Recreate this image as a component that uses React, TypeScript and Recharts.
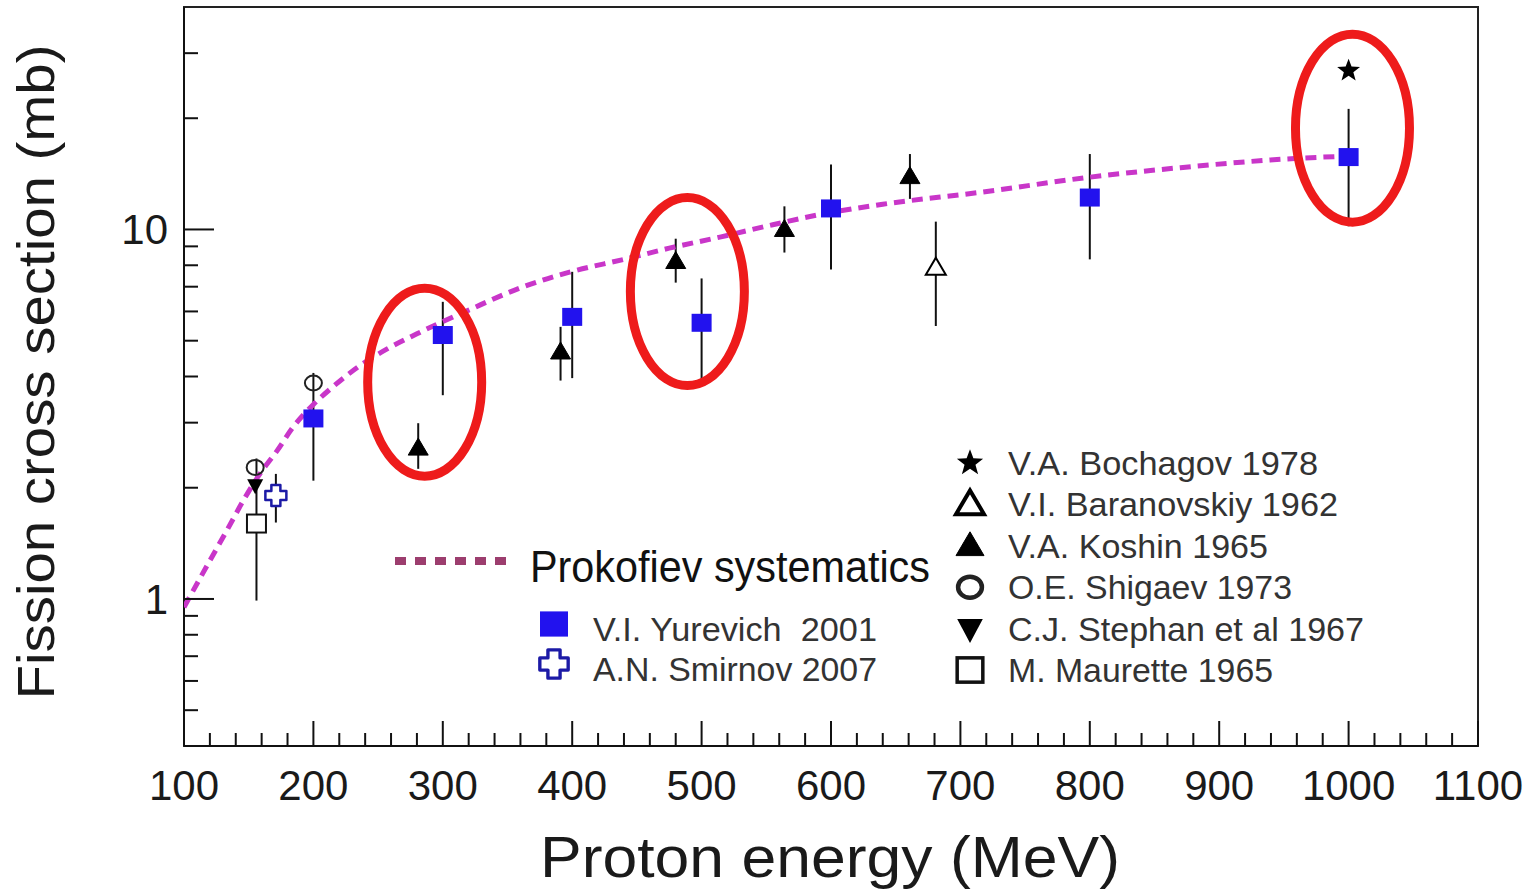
import React from "react";
import { ScatterChart, Scatter, XAxis, YAxis, ErrorBar, ReferenceArea } from "recharts";

const FONT = "'Liberation Sans', Arial, Helvetica, sans-serif";
const BLUE = "#2212ee";
const CURVE = "#c936c9";

// Prokofiev systematics
const curveEnergy = [100, 120, 133, 146, 159, 172, 184, 200, 215, 236, 257, 280, 320, 360, 400, 440, 475, 515, 555, 590, 640, 715, 800, 870, 950, 1000];
const curveSigma = [0.95, 1.27, 1.53, 1.85, 2.19, 2.52, 2.91, 3.36, 3.75, 4.28, 4.75, 5.22, 6.05, 6.95, 7.7, 8.3, 8.9, 9.55, 10.3, 10.95, 11.7, 12.6, 13.85, 14.7, 15.5, 15.8];

// V.I. Yurevich 2001
const yurEnergy = [200, 300, 400, 500, 600, 800, 1000];
const yurSigma = [3.08, 5.18, 5.8, 5.59, 11.4, 12.2, 15.7];
const yurLo = [2.09, 3.56, 3.96, 3.91, 7.79, 8.3, 10.2];
const yurHi = [4.09, 6.37, 7.68, 7.37, 15.0, 16.0, 21.2];

// V.A. Koshin 1965
const koshEnergy = [281, 391, 480, 564, 661];
const koshSigma = [2.56, 4.66, 8.19, 10.0, 13.9];
const koshLo = [2.25, 3.9, 7.18, 8.66, 12.1];
const koshHi = [2.99, 5.45, 9.44, 11.55, 16.0];

// V.I. Baranovskiy 1962
const baraEnergy = [681];
const baraSigma = [7.88];
const baraLo = [5.48];
const baraHi = [10.5];

// V.A. Bochagov 1978
const bochEnergy = [1000];
const bochSigma = [26.9];

// O.E. Shigaev 1973
const shigEnergy = [155, 200];
const shigSigma = [2.27, 3.84];

// C.J. Stephan et al 1967
const stepEnergy = [155];
const stepSigma = [2.03];

// M. Maurette 1965
const maurEnergy = [156];
const maurSigma = [1.6];
const maurLo = [0.99];
const maurHi = [2.4];

// A.N. Smirnov 2007
const smirEnergy = [171];
const smirSigma = [1.905];
const smirLo = [1.61];
const smirHi = [2.18];

// highlighted groups (red rings)
const ringEnergy = [286, 489, 1003];
const ringSigma = [3.86, 6.79, 18.8];

const xMajor = [100, 200, 300, 400, 500, 600, 700, 800, 900, 1000, 1100];
const yMajor = [1, 10];
const yMinor = [0.5, 0.6, 0.7, 0.8, 0.9, 2, 3, 4, 5, 6, 7, 8, 9, 20, 30];

const xTicks: number[] = [];
xMajor.forEach((m, i) => {
  xTicks.push(m);
  if (i < xMajor.length - 1) for (let k = 1; k < 5; k++) xTicks.push(m + k * 20);
});
const yTicks = [...yMinor, ...yMajor].sort((a, b) => a - b);

const rows = (xs: number[], ys: number[], lo?: number[], hi?: number[]) =>
  xs.map((x, i) => ({
    x,
    y: ys[i],
    err: lo && hi ? [ys[i] - lo[i], hi[i] - ys[i]] : [0, 0],
  }));

const curveData = rows(curveEnergy, curveSigma);
const yurData = rows(yurEnergy, yurSigma, yurLo, yurHi);
const koshData = rows(koshEnergy, koshSigma, koshLo, koshHi);
const baraData = rows(baraEnergy, baraSigma, baraLo, baraHi);
const bochData = rows(bochEnergy, bochSigma);
const shigData = rows(shigEnergy, shigSigma);
const stepData = rows(stepEnergy, stepSigma);
const maurData = rows(maurEnergy, maurSigma, maurLo, maurHi);
const smirData = rows(smirEnergy, smirSigma, smirLo, smirHi);
const ringData = rows(ringEnergy, ringSigma);

// ---- marker shapes ----
function starPoints(cx: number, cy: number, R: number, r: number) {
  const pts: string[] = [];
  for (let i = 0; i < 10; i++) {
    const a = -Math.PI / 2 + (i * Math.PI) / 5;
    const rad = i % 2 === 0 ? R : r;
    pts.push(`${cx + rad * Math.cos(a)},${cy + rad * Math.sin(a)}`);
  }
  return pts.join(" ");
}

function plusPoints(cx: number, cy: number, a: number, L: number) {
  const p = [
    [-a, -L], [a, -L], [a, -a], [L, -a], [L, a], [a, a],
    [a, L], [-a, L], [-a, a], [-L, a], [-L, -a], [-a, -a],
  ];
  return p.map(([dx, dy]) => `${cx + dx},${cy + dy}`).join(" ");
}

const BlueSquare = ({ cx, cy, k = 1 }: any) => (
  <rect x={cx - 10 * k} y={cy - 9 * k} width={20 * k} height={18 * k} fill={BLUE} />
);
const TriUp = ({ cx, cy, k = 1, open = false, sw }: any) => (
  <polygon
    points={`${cx - 10 * k},${cy + 7 * k} ${cx + 10 * k},${cy + 7 * k} ${cx},${cy - 10 * k}`}
    fill={open ? "#fff" : "#000"}
    stroke="#000"
    strokeWidth={sw ?? (open ? 2 * k : 1)}
    strokeLinejoin="miter"
  />
);
const TriDown = ({ cx, cy, k = 1 }: any) => (
  <polygon
    points={`${cx - 8 * k},${cy - 6 * k} ${cx + 8 * k},${cy - 6 * k} ${cx},${cy + 9 * k}`}
    fill="#000"
  />
);
const Circle = ({ cx, cy, k = 1, sw }: any) => (
  <ellipse cx={cx} cy={cy} rx={8.5 * k} ry={7.5 * k} fill="none" stroke="#222" strokeWidth={sw ?? 2 * k} />
);
const OpenSquare = ({ cx, cy, k = 1, sw }: any) => (
  <rect x={cx - 9.5 * k} y={cy - 9 * k} width={19 * k} height={18 * k} fill="#fff" stroke="#111" strokeWidth={sw ?? 2 * k} />
);
const Star = ({ cx, cy, k = 1 }: any) => <polygon points={starPoints(cx, cy, 12 * k, 5 * k)} fill="#000" />;
const Plus = ({ cx, cy, k = 1 }: any) => (
  <polygon points={plusPoints(cx, cy, 4.5 * k, 10.5 * k)} fill="#fff" stroke="#1c1aa6" strokeWidth={2.5 * k} strokeLinejoin="round" />
);
const Ring = ({ cx, cy }: any) => (
  <ellipse cx={cx} cy={cy} rx={57} ry={94} fill="none" stroke="#ee1b1b" strokeWidth={9} />
);
const Nothing = () => <g />;

// ---- axis ticks (drawn inward) ----
const YTick = ({ x, y, payload }: any) => {
  const major = yMajor.includes(payload.value);
  return (
    <g>
      <line x1={x} x2={x + (major ? 30 : 14)} y1={y} y2={y} stroke="#111" strokeWidth={2} />
      {major && (
        <text x={x - 16} y={y + 15} textAnchor="end" fontSize={42} fontFamily={FONT} fill="#1a1a1a">
          {payload.value}
        </text>
      )}
    </g>
  );
};

const XTick = ({ x, y, payload }: any) => {
  const major = xMajor.includes(payload.value);
  return (
    <g>
      <line x1={x} x2={x} y1={y} y2={y - (major ? 25 : 13)} stroke="#111" strokeWidth={2} />
      {major && (
        <text x={x} y={y + 54} textAnchor="middle" fontSize={42} fontFamily={FONT} fill="#1a1a1a">
          {payload.value}
        </text>
      )}
    </g>
  );
};

const errProps = { dataKey: "err", direction: "y" as const, width: 0, stroke: "#111", strokeWidth: 2 };

const rightLegend = [
  { label: "V.A. Bochagov 1978", len: 310, M: Star, k: 1.15, extra: {} },
  { label: "V.I. Baranovskiy 1962", len: 330, M: TriUp, k: 1.4, extra: { open: true, sw: 4 } },
  { label: "V.A. Koshin 1965", len: 260, M: TriUp, k: 1.4, extra: {} },
  { label: "O.E. Shigaev 1973", len: 284, M: Circle, k: 1.4, extra: { sw: 4.5 } },
  { label: "C.J. Stephan et al 1967", len: 356, M: TriDown, k: 1.6, extra: {} },
  { label: "M. Maurette 1965", len: 265, M: OpenSquare, k: 1.35, extra: { sw: 3.5 } },
];

export default function App() {
  return (
    <div style={{ position: "absolute", left: 0, top: 0, width: 1537, height: 890, background: "#fff" }}>
      <ScatterChart width={1537} height={890} margin={{ top: 7, right: 59, bottom: 0, left: 0 }}>
        <XAxis
          type="number"
          dataKey="x"
          domain={[100, 1100]}
          allowDataOverflow
          ticks={xTicks}
          interval={0}
          tick={(p: any) => <XTick {...p} />}
          tickLine={false}
          tickSize={0}
          tickMargin={0}
          axisLine={{ stroke: "#111", strokeWidth: 2 }}
          height={144}
        />
        <YAxis
          type="number"
          dataKey="y"
          scale="log"
          domain={[0.4, 40]}
          allowDataOverflow
          ticks={yTicks}
          interval={0}
          tick={(p: any) => <YTick {...p} />}
          tickLine={false}
          tickSize={0}
          tickMargin={0}
          axisLine={{ stroke: "#111", strokeWidth: 2 }}
          width={184}
        />
        <ReferenceArea x1={100} x2={1100} y1={0.4} y2={40} fill="none" stroke="#222" strokeWidth={2} ifOverflow="visible" />

        <Scatter
          data={curveData}
          shape={Nothing}
          line={{ stroke: CURVE, strokeWidth: 5, strokeDasharray: "11 7", fill: "none" }}
          lineJointType="monotoneX"
          isAnimationActive={false}
        />
        <Scatter data={ringData} shape={Ring} isAnimationActive={false} />

        <Scatter data={maurData} shape={OpenSquare} isAnimationActive={false}>
          <ErrorBar {...errProps} />
        </Scatter>
        <Scatter data={stepData} shape={TriDown} isAnimationActive={false} />
        <Scatter data={shigData} shape={Circle} isAnimationActive={false} />
        <Scatter data={smirData} shape={Plus} isAnimationActive={false}>
          <ErrorBar {...errProps} />
        </Scatter>
        <Scatter data={koshData} shape={TriUp} isAnimationActive={false}>
          <ErrorBar {...errProps} />
        </Scatter>
        <Scatter data={baraData} shape={(p: any) => <TriUp {...p} open />} isAnimationActive={false}>
          <ErrorBar {...errProps} />
        </Scatter>
        <Scatter data={yurData} shape={BlueSquare} isAnimationActive={false}>
          <ErrorBar {...errProps} />
        </Scatter>
        <Scatter data={bochData} shape={Star} isAnimationActive={false} />
      </ScatterChart>

      <svg width={1537} height={890} style={{ position: "absolute", left: 0, top: 0, pointerEvents: "none" }} fontFamily={FONT}>
        <text
          transform="translate(54,372) rotate(-90)"
          textAnchor="middle"
          fontSize={52}
          textLength={655}
          lengthAdjust="spacingAndGlyphs"
          fill="#1a1a1a"
        >
          Fission cross section (mb)
        </text>
        <text x={830} y={877} textAnchor="middle" fontSize={58} textLength={580} lengthAdjust="spacingAndGlyphs" fill="#1a1a1a">
          Proton energy (MeV)
        </text>

        <line x1={395} x2={515} y1={561} y2={561} stroke="#9c3d6e" strokeWidth={8} strokeDasharray="11 9" />
        <text x={530} y={582} fontSize={44} textLength={400} lengthAdjust="spacingAndGlyphs" fill="#111">
          Prokofiev systematics
        </text>
        <BlueSquare cx={554} cy={624} k={1.4} />
        <text x={593} y={641} fontSize={34} textLength={284} lengthAdjust="spacingAndGlyphs" fill="#333" style={{ whiteSpace: "pre" }}>
          {"V.I. Yurevich  2001"}
        </text>
        <Plus cx={554} cy={664} k={1.35} />
        <text x={593} y={681} fontSize={34} textLength={284} lengthAdjust="spacingAndGlyphs" fill="#333">
          A.N. Smirnov 2007
        </text>

        {rightLegend.map((e, i) => {
          const base = 475 + i * 41.4;
          const M = e.M as any;
          return (
            <g key={e.label}>
              <M cx={970} cy={base - 12} k={e.k} {...e.extra} />
              <text x={1008} y={base} fontSize={34} textLength={e.len} lengthAdjust="spacingAndGlyphs" fill="#333">
                {e.label}
              </text>
            </g>
          );
        })}
      </svg>
    </div>
  );
}
